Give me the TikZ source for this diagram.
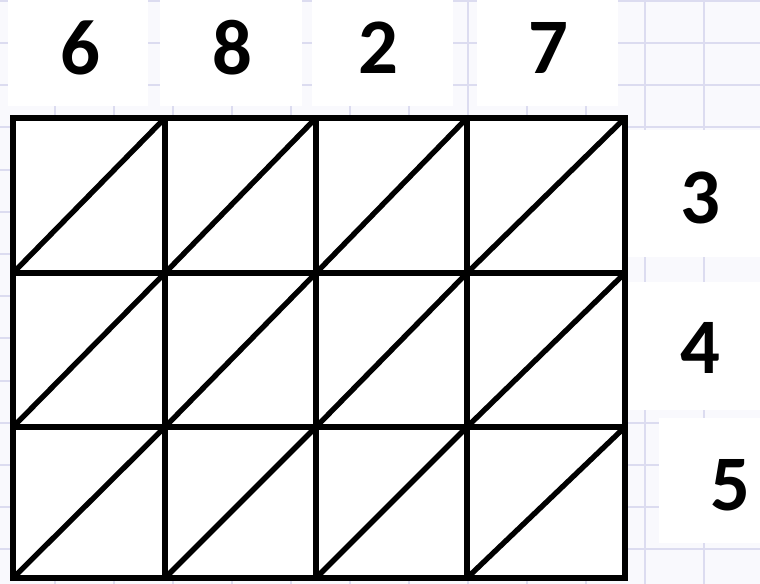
\documentclass[tikz,border=0pt]{standalone}
\usepackage{fontspec}
\setmainfont{Carlito}
\begin{document}
\begin{tikzpicture}[x=0.75pt,y=-0.75pt,
  paper/.style={fill=papercol},
  gline/.style={draw=gridcol,line width=1.8pt},
  wbox/.style={fill=white},
  lattice/.style={line width=4.2pt,line cap=rect},
  diag/.style={line width=4pt},
  digit/.style={font=\fontsize{59}{66}\selectfont\bfseries,inner sep=0pt,anchor=center}]
\definecolor{papercol}{RGB}{249,249,253}
\definecolor{gridcol}{RGB}{220,220,240}
\useasboundingbox (0,0) rectangle (760,584);
\fill[paper] (0,0) rectangle (760,584);
% graph paper
\foreach \x in {-4,55,114,173,232,291,350,409,468,527,586,645,704}
  \draw[gline] (\x,0) -- (\x,584);
\foreach \y in {1,43,85,127,170,212,254,296,338,381,423,465,507,549}
  \draw[gline] (0,\y) -- (760,\y);
% white boxes behind the digits
\fill[wbox] (8,0) rectangle (148,106);
\fill[wbox] (160,0) rectangle (302,106);
\fill[wbox] (312,0) rectangle (453,106);
\fill[wbox] (477,0) rectangle (618,106);
\fill[wbox] (628,130) rectangle (760,257);
\fill[wbox] (628,282) rectangle (760,410);
\fill[wbox] (659,418) rectangle (760,543);
\fill[white] (13,118) rectangle (625,578);
% lattice
\foreach \x in {13,165,316,467,625}
  \draw[lattice] (\x,118) -- (\x,578);
\foreach \y in {118,273,427,578}
  \draw[lattice] (13,\y) -- (625,\y);
\foreach \xa/\xb in {13/165,165/316,316/467,467/625}
  \foreach \ya/\yb in {118/273,273/427,427/578}
    \draw[diag] (\xa,\yb) -- (\xb,\ya);
% digits
\node[digit] (t6) at (80,48) {6};
\node[digit] (t8) at (232,48) {8};
\node[digit] (t2) at (378,48) {2};
\node[digit] (t7) at (548,48) {7};
\node[digit] (r3) at (700,198) {3};
\node[digit] (r4) at (700,348) {4};
\node[digit] (r5) at (730,485) {5};
\end{tikzpicture}
\end{document}
